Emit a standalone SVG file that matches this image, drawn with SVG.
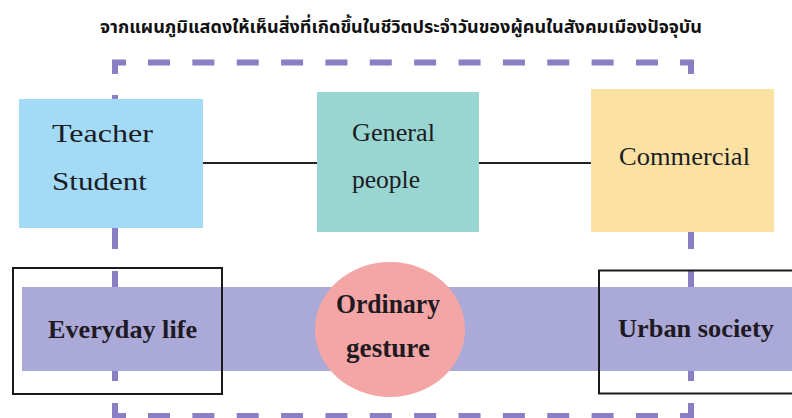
<svg xmlns="http://www.w3.org/2000/svg" width="792" height="418" viewBox="0 0 792 418">
<style>
.dash{stroke:#8a7ec4;stroke-width:6;fill:none;stroke-linecap:butt;stroke-linejoin:miter}
.lbl{font-family:"Liberation Serif","Times New Roman",serif;fill:#1c1c24}
.bold{font-family:"Liberation Serif","Times New Roman",serif;font-weight:bold;fill:#1f1a22}
.conn{stroke:#222;stroke-width:1.8}
.frame{fill:none;stroke:#1a1a1a;stroke-width:2}
</style>
<rect width="792" height="418" fill="#ffffff"/>
<text x="100" y="33" font-family="'Noto Sans Thai','Noto Sans','DejaVu Sans',sans-serif" font-weight="bold" font-size="18" fill="#111" textLength="602" lengthAdjust="spacingAndGlyphs">จากแผนภูมิแสดงให้เห็นสิ่งที่เกิดขึ้นในชีวิตประจำวันของผู้คนในสังคมเมืองปัจจุบัน</text>
<g id="dashed-border">
<path class="dash" d="M115,74 V62.5 H126"/>
<line class="dash" x1="148" y1="62.5" x2="658.4" y2="62.5" stroke-dasharray="22 22.36"/>
<path class="dash" d="M680,62.5 H691 V74"/>
<line class="dash" x1="115" y1="95" x2="115" y2="381" stroke-dasharray="22 22"/>
<line class="dash" x1="691" y1="95" x2="691" y2="381" stroke-dasharray="22 22"/>
<path class="dash" d="M115,403 V416 H126"/>
<line class="dash" x1="148" y1="416" x2="658.4" y2="416" stroke-dasharray="22 22.36"/>
<path class="dash" d="M680,416 H691 V403"/>
</g>
<g id="connectors">
<line class="conn" x1="203" y1="163" x2="318" y2="163"/>
<line class="conn" x1="479" y1="163" x2="591" y2="163"/>
</g>
<g id="node-teacher">
<rect x="19" y="99" width="184" height="129" fill="#a3daf5"/>
<text class="lbl" x="52" y="142" font-size="25" textLength="101" lengthAdjust="spacingAndGlyphs">Teacher</text>
<text class="lbl" x="52" y="190" font-size="25" textLength="95" lengthAdjust="spacingAndGlyphs">Student</text>
</g>
<g id="node-general">
<rect x="317" y="92" width="162" height="140" fill="#9ad6d1"/>
<text class="lbl" x="352" y="141" font-size="25" textLength="83" lengthAdjust="spacingAndGlyphs">General</text>
<text class="lbl" x="352" y="188" font-size="25" textLength="68" lengthAdjust="spacingAndGlyphs">people</text>
</g>
<g id="node-commercial">
<rect x="591" y="89" width="183" height="143" fill="#fce2a2"/>
<text class="lbl" x="619" y="165" font-size="26" textLength="131" lengthAdjust="spacingAndGlyphs">Commercial</text>
</g>
<g id="band">
<rect x="22" y="287" width="770" height="84" fill="#aaa9d8"/>
</g>
<g id="node-ordinary">
<ellipse cx="390" cy="329.5" rx="75" ry="67.5" fill="#f4a6a6"/>
<text class="bold" x="388" y="313" font-size="27" text-anchor="middle" textLength="104" lengthAdjust="spacingAndGlyphs">Ordinary</text>
<text class="bold" x="388" y="357" font-size="27" text-anchor="middle" textLength="84" lengthAdjust="spacingAndGlyphs">gesture</text>
</g>
<g id="node-everyday">
<rect class="frame" x="13" y="268" width="209" height="126"/>
<text class="bold" x="48" y="338" font-size="26" textLength="149" lengthAdjust="spacingAndGlyphs">Everyday life</text>
</g>
<g id="node-urban">
<rect class="frame" x="599" y="270.5" width="210" height="123"/>
<text class="bold" x="618" y="337" font-size="26" textLength="156" lengthAdjust="spacingAndGlyphs">Urban society</text>
</g>
</svg>
